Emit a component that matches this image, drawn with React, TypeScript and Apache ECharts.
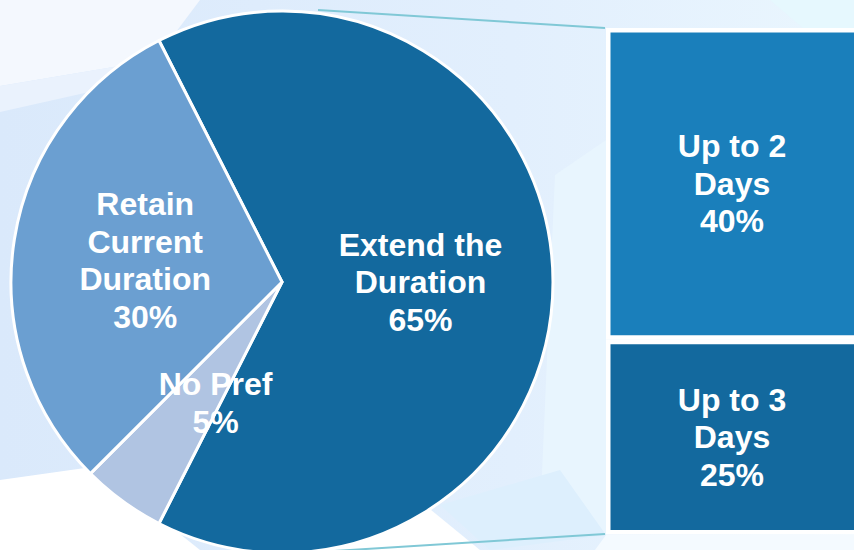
import React, { useEffect, useRef } from "react";
import * as echarts from "echarts";

const pieNames = ["Extend the\nDuration", "No Pref", "Retain\nCurrent\nDuration"];
const pieValues = [65, 5, 30];
const pieColors = ["#13699E", "#B0C4E2", "#6B9FD1"];

const barNames = ["Up to 3\nDays", "Up to 2\nDays"];
const barValues = [25, 40];
const barColors = ["#13699E", "#1A7FBB"];

const barCategory = ["Extend the Duration"];

export default function App() {
  const ref = useRef<HTMLDivElement>(null);

  useEffect(() => {
    document.body.style.margin = "0";
    if (!ref.current) return;
    const chart = echarts.init(ref.current, undefined, { renderer: "svg" });

    const font = {
      color: "#FFFFFF",
      fontFamily: "Liberation Sans, Arial, sans-serif",
      fontWeight: "bold" as const,
      fontSize: 32,
      lineHeight: 37.5,
    };

    const bg: any[] = [
      {
        type: "rect",
        shape: { x: 0, y: 0, width: 854, height: 550 },
        style: {
          fill: new echarts.graphic.LinearGradient(0, 0, 1, 0, [
            { offset: 0, color: "#DAE9FB" },
            { offset: 0.6, color: "#E2EFFD" },
            { offset: 1, color: "#EAF6FE" },
          ]),
        },
        z: 0,
      },
      { type: "polygon", shape: { points: [[0, 0], [200, 0], [155, 60], [0, 86]] }, style: { fill: "#F4F8FE" }, z: 0 },
      { type: "polygon", shape: { points: [[0, 86], [155, 60], [165, 75], [0, 112]] }, style: { fill: "#EAF2FD" }, z: 0 },
      { type: "polygon", shape: { points: [[770, 0], [854, 0], [854, 30], [805, 30]] }, style: { fill: "#E6F8FE" }, z: 0 },
      { type: "polygon", shape: { points: [[555, 175], [606, 140], [606, 535], [540, 520]] }, style: { fill: "#E8F5FE" }, z: 0 },
      { type: "polygon", shape: { points: [[0, 480], [92, 467], [165, 522], [200, 550], [0, 550]] }, style: { fill: "#FFFFFF" }, z: 0 },
      { type: "polygon", shape: { points: [[440, 505], [560, 470], [606, 535], [490, 550]] }, style: { fill: "#DDEFFD" }, z: 0 },
      { type: "polygon", shape: { points: [[300, 545], [425, 505], [480, 550], [300, 550]] }, style: { fill: "#FFFFFF" }, z: 0 },
      { type: "polygon", shape: { points: [[606, 535], [854, 535], [854, 550], [595, 550]] }, style: { fill: "#F4FAFF" }, z: 0 },
      {
        type: "line",
        shape: { x1: 318, y1: 10, x2: 605, y2: 28 },
        style: { stroke: "#80C8D6", lineWidth: 2 },
        z: 1,
      },
      {
        type: "line",
        shape: { x1: 334, y1: 551, x2: 605, y2: 534 },
        style: { stroke: "#80C8D6", lineWidth: 2 },
        z: 1,
      },
    ];

    chart.setOption({
      animation: false,
      graphic: bg,
      grid: { left: 606, top: 28, width: 290, height: 506.5, outerBoundsMode: "none", containLabel: false },
      xAxis: { type: "category", data: barCategory, show: false },
      yAxis: { type: "value", min: 0, max: 65, show: false },
      series: [
        {
          type: "pie",
          center: [282, 282],
          radius: 271,
          startAngle: 117,
          clockwise: true,
          silent: true,
          itemStyle: { borderColor: "#FFFFFF", borderWidth: 3 },
          label: {
            show: true,
            position: "inside",
            formatter: (p: any) => `${p.name}\n${p.value}%`,
            ...font,
          },
          labelLine: { show: false },
          data: pieNames.map((n, i) => ({
            name: n,
            value: pieValues[i],
            itemStyle: { color: pieColors[i] },
            label: n === "No Pref" ? { offset: [15, 9] } : undefined,
          })),
        },
        ...barNames.map((n, i) => ({
          type: "bar",
          name: n,
          stack: "ext",
          barWidth: "100%",
          silent: true,
          itemStyle: { color: barColors[i], borderColor: "#FFFFFF", borderWidth: 4.5 },
          label: {
            show: true,
            position: [126, "50%"],
            align: "center",
            verticalAlign: "middle",
            formatter: (p: any) => `${p.seriesName}\n${p.value}%`,
            ...font,
          },
          data: [barValues[i]],
        })),
      ],
    });

    return () => chart.dispose();
  }, []);

  return <div ref={ref} style={{ width: 854, height: 550 }} />;
}
